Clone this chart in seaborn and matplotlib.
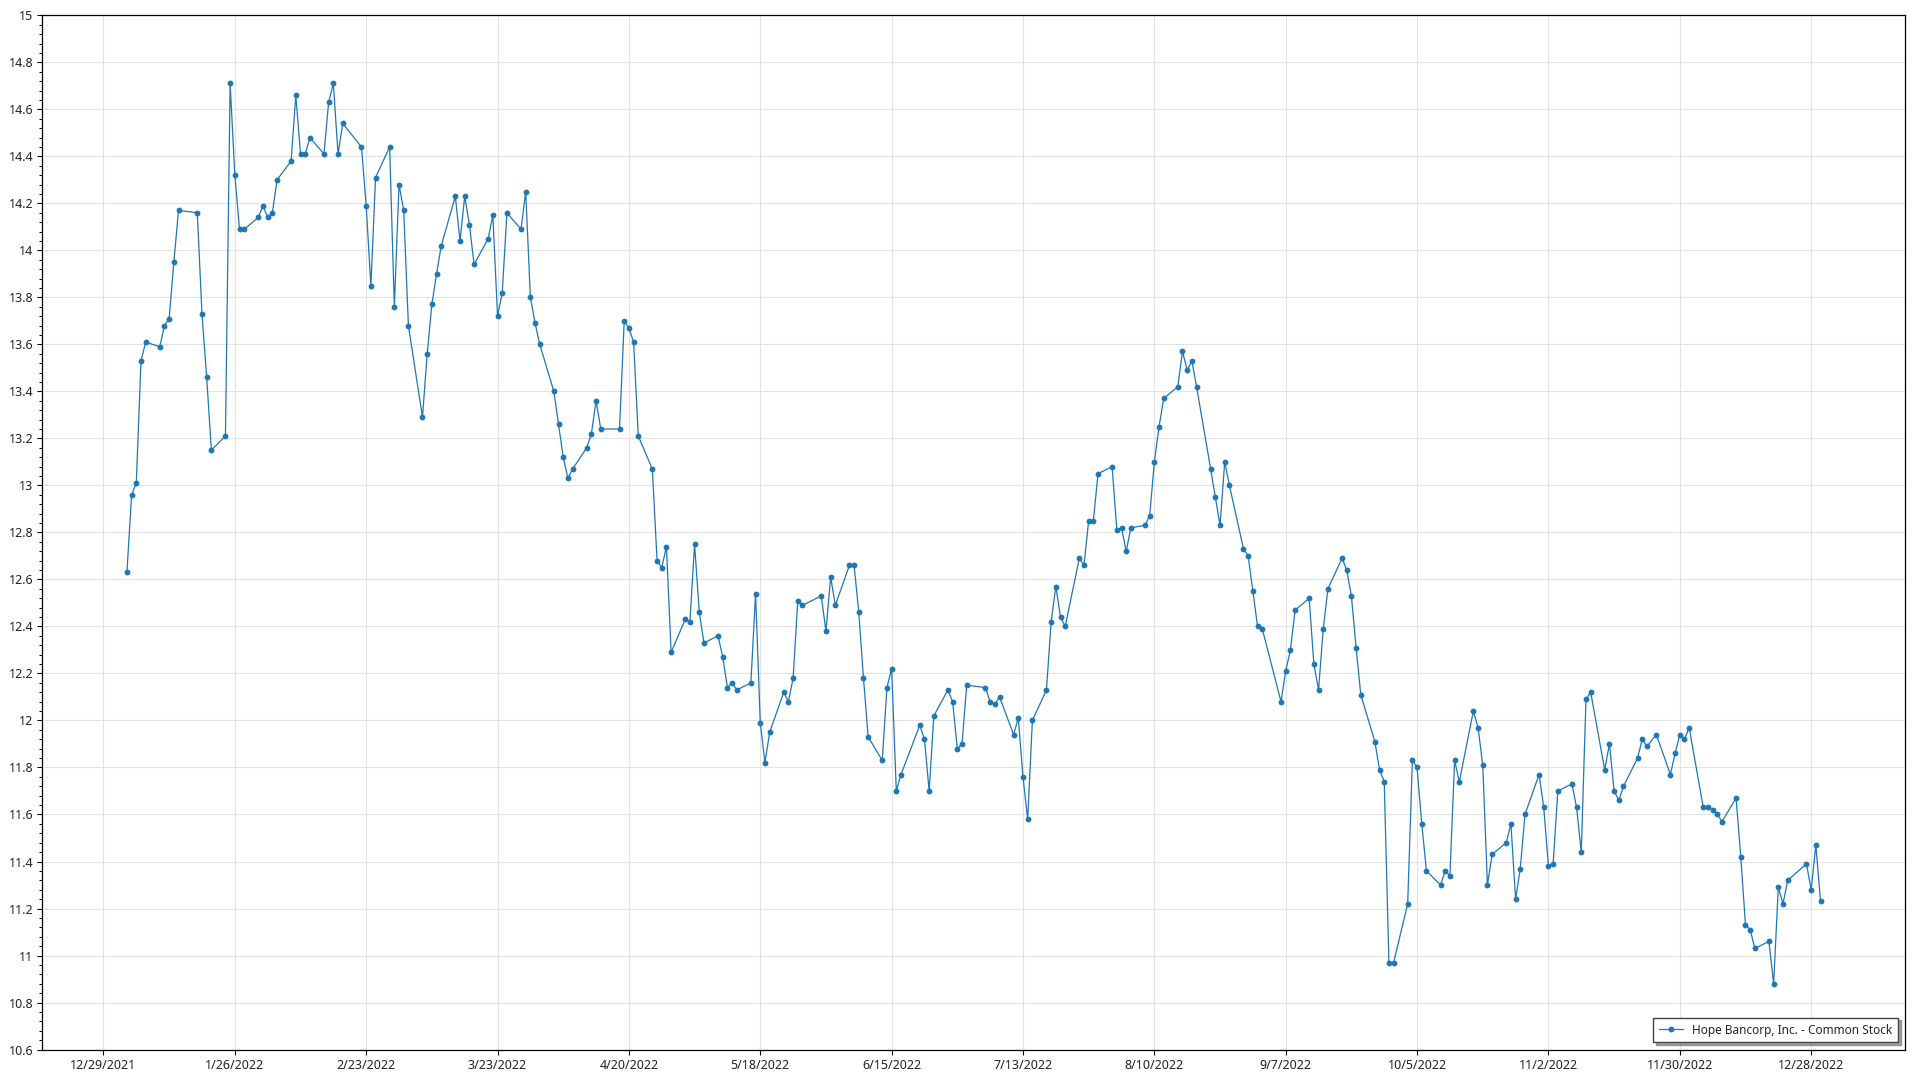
import numpy as np
import pandas as pd
import matplotlib
matplotlib.use("Agg")
import matplotlib.pyplot as plt
import matplotlib.ticker as mticker
import seaborn as sns

# ---------------- data ----------------
series_name = "Hope Bancorp, Inc. - Common Stock"

market_holidays = ["2022-01-17", "2022-02-21", "2022-04-15", "2022-05-30",
                   "2022-06-20", "2022-07-04", "2022-09-05", "2022-11-24",
                   "2022-12-26"]
first_day = "2022-01-03"
last_day = "2022-12-30"

close_prices = [
    12.63, 12.96, 13.01, 13.53, 13.61,
    13.59, 13.68, 13.71, 13.95, 14.17,
    14.16, 13.73, 13.46, 13.15,
    13.21, 14.71, 14.32, 14.09, 14.09,
    14.14, 14.19, 14.14, 14.16, 14.30,
    14.38, 14.66, 14.41, 14.41, 14.48,
    14.41, 14.63, 14.71, 14.41, 14.54,
    14.44, 14.19, 13.85, 14.31,
    14.44, 13.76, 14.28, 14.17, 13.68,
    13.29, 13.56, 13.77, 13.90, 14.02,
    14.23, 14.04, 14.23, 14.11, 13.94,
    14.05, 14.15, 13.72, 13.82, 14.16,
    14.09, 14.25, 13.80, 13.69, 13.60,
    13.40, 13.26, 13.12, 13.03, 13.07,
    13.16, 13.22, 13.36, 13.24,
    13.24, 13.70, 13.67, 13.61, 13.21,
    13.07, 12.68, 12.65, 12.74, 12.29,
    12.43, 12.42, 12.75, 12.46, 12.33,
    12.36, 12.27, 12.14, 12.16, 12.13,
    12.16, 12.54, 11.99, 11.82, 11.95,
    12.12, 12.08, 12.18, 12.51, 12.49,
    12.53, 12.38, 12.61, 12.49,
    12.66, 12.66, 12.46, 12.18, 11.93,
    11.83, 12.14, 12.22, 11.70, 11.77,
    11.98, 11.92, 11.70, 12.02,
    12.13, 12.08, 11.88, 11.90, 12.15,
    12.14, 12.08, 12.07, 12.10,
    11.94, 12.01, 11.76, 11.58, 12.00,
    12.13, 12.42, 12.57, 12.44, 12.40,
    12.69, 12.66, 12.85, 12.85, 13.05,
    13.08, 12.81, 12.82, 12.72, 12.82,
    12.83, 12.87, 13.10, 13.25, 13.37,
    13.42, 13.57, 13.49, 13.53, 13.42,
    13.07, 12.95, 12.83, 13.10, 13.00,
    12.73, 12.70, 12.55, 12.40, 12.39,
    12.08, 12.21, 12.30, 12.47,
    12.52, 12.24, 12.13, 12.39, 12.56,
    12.69, 12.64, 12.53, 12.31, 12.11,
    11.91, 11.79, 11.74, 10.97, 10.97,
    11.22, 11.83, 11.80, 11.56, 11.36,
    11.30, 11.36, 11.34, 11.83, 11.74,
    12.04, 11.97, 11.81, 11.30, 11.43,
    11.48, 11.56, 11.24, 11.37, 11.60,
    11.77, 11.63, 11.38, 11.39, 11.70,
    11.73, 11.63, 11.44, 12.09, 12.12,
    11.79, 11.90, 11.70, 11.66, 11.72,
    11.84, 11.92, 11.89, 11.94,
    11.77, 11.86, 11.94, 11.92, 11.97,
    11.63, 11.63, 11.62, 11.60, 11.57,
    11.67, 11.42, 11.13, 11.11, 11.03,
    11.06, 10.88, 11.29, 11.22, 11.32,
    11.39, 11.28, 11.47, 11.23,
]

x_tick_start = "2021-12-29"
x_tick_count = 14
x_tick_step_days = 28
y_limits = (10.6, 15.0)
y_major_step = 0.2

# ---------------- build frame ----------------
trading_days = pd.bdate_range(first_day, last_day, freq="C",
                              holidays=market_holidays)
assert len(trading_days) == len(close_prices)
df = pd.DataFrame({"date": trading_days, "price": close_prices})

# ---------------- style ----------------
sns.set_theme(style="white")
plt.rcParams["font.family"] = ["Noto Sans", "DejaVu Sans"]
plt.rcParams["font.size"] = 9

fig = plt.figure(figsize=(19.2, 10.8), dpi=100)
ax = fig.add_axes([0.022, 0.0282, 0.9703, 0.9576])

line_color = "#1f77b4"
sns.lineplot(data=df, x="date", y="price", ax=ax, color=line_color,
             linewidth=0.9, marker="o", markersize=4.2,
             markeredgewidth=0, markerfacecolor=line_color,
             label=series_name)

# axes limits and ticks
ax.set_ylim(*y_limits)
ax.yaxis.set_major_locator(mticker.MultipleLocator(y_major_step))
ax.yaxis.set_minor_locator(mticker.AutoMinorLocator(5))
ax.yaxis.set_major_formatter(mticker.FuncFormatter(lambda v, p: f"{v:g}"))

tick_dates = pd.date_range(x_tick_start, periods=x_tick_count,
                           freq=f"{x_tick_step_days}D")
ax.set_xticks(tick_dates)
ax.set_xticklabels([f"{d.month}/{d.day}/{d.year}" for d in tick_dates])
ax.margins(x=0.05)

ax.set_xlabel("")
ax.set_ylabel("")

ax.grid(True, which="major", color="#e3e3e3", linewidth=0.8)
ax.set_axisbelow(True)

for s in ax.spines.values():
    s.set_visible(True)
    s.set_color("black")
    s.set_linewidth(0.9)

ax.tick_params(axis="both", which="major", direction="out", length=3.5,
               width=0.8, color="black", labelsize=9, labelcolor="#222222",
               left=True, bottom=True, pad=3)
ax.tick_params(axis="y", which="minor", direction="out", length=2,
               width=0.7, color="black", left=True)

leg = ax.legend(loc="lower right", frameon=True, fancybox=False, shadow=True,
                edgecolor="#444444", framealpha=1, fontsize=8.5,
                handlelength=2.0, borderaxespad=0.6, borderpad=0.5)
leg.get_frame().set_linewidth(1.0)

fig.savefig("out.png", dpi=100, facecolor="white")
